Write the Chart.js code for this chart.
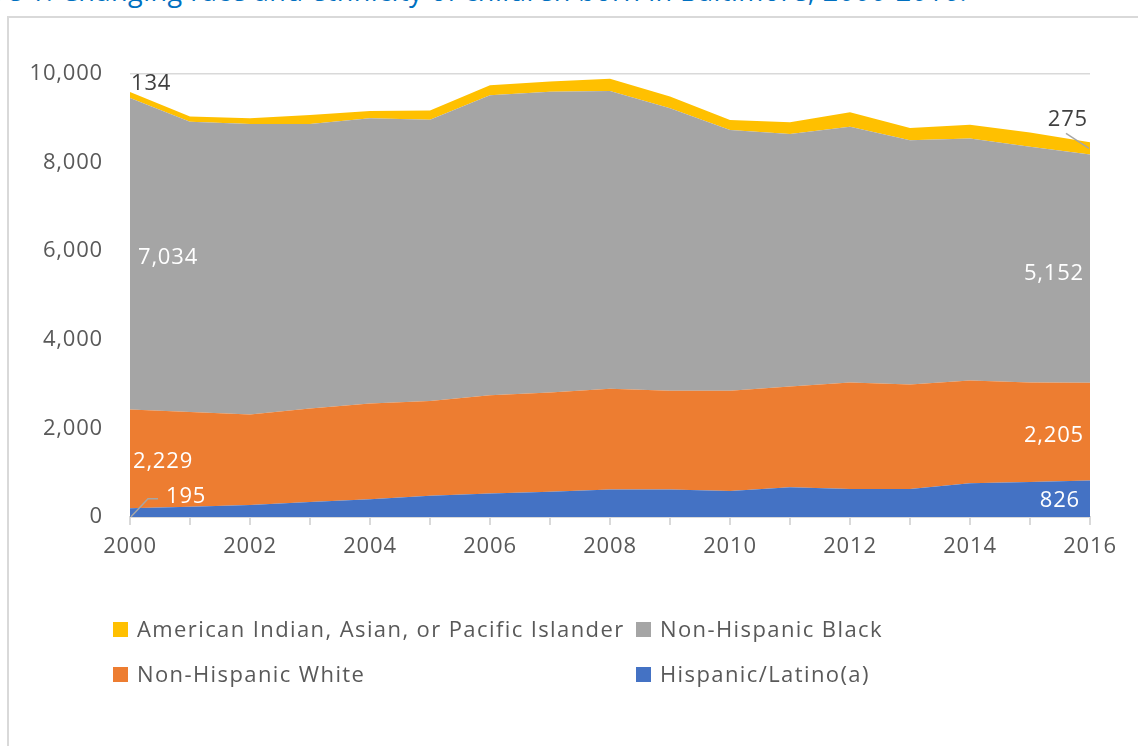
<!DOCTYPE html>
<html>
<head>
<meta charset="utf-8">
<script src="https://cdn.jsdelivr.net/npm/chart.js@4.4.1/dist/chart.umd.min.js"></script>
<style>
  html, body { margin: 0; padding: 0; background: #fff; overflow: hidden; }
  #wrap { position: relative; width: 1138px; height: 746px; overflow: hidden; }
  #title { position: absolute; right: 171px; top: -28px; white-space: nowrap;
           font: 27px "Open Sans", sans-serif; color: #0070c0; letter-spacing: 0.5px; }
  #frame { position: absolute; left: 7px; top: 16px; width: 1200px; height: 800px;
           border: 2px solid #d9d9d9; box-sizing: border-box; }
  #chart { position: absolute; left: 0; top: 0; }
  .leg { position: absolute; font: 22px "Open Sans", sans-serif; color: #595959;
         white-space: nowrap; letter-spacing: 1.4px; }
  .leg i { display: inline-block; width: 15px; height: 15px; margin-right: 9px; vertical-align: 0px; }
</style>
</head>
<body>
<div id="wrap">
  <div id="title">Figure 1. Changing race and ethnicity of children born in Baltimore, 2000-2016.</div>
  <div id="frame"></div>
  <canvas id="chart" width="1138" height="746"></canvas>
</div>
<script>
// years and counts of births by race/ethnicity
const years = ['2000','2001','2002','2003','2004','2005','2006','2007','2008',
               '2009','2010','2011','2012','2013','2014','2015','2016'];
const hispanic = [195, 230, 270, 340, 400, 480, 530, 570, 620, 620, 585, 670, 630, 630, 760, 790, 826];
const white    = [2229, 2140, 2041, 2108, 2161, 2140, 2220, 2241, 2275, 2228, 2263, 2278, 2408, 2363, 2324, 2248, 2205];
const black    = [7034, 6554, 6560, 6423, 6439, 6350, 6770, 6790, 6720, 6380, 5886, 5695, 5773, 5514, 5461, 5319, 5152];
const other    = [134, 114, 129, 205, 166, 204, 227, 228, 275, 266, 227, 266, 325, 273, 311, 325, 275];
const yTicks   = [0, 2000, 4000, 6000, 8000, 10000];

const series = [
  { label: 'Hispanic/Latino(a)', data: hispanic, color: '#4472c4' },
  { label: 'Non-Hispanic White', data: white, color: '#ed7d31' },
  { label: 'Non-Hispanic Black', data: black, color: '#a5a5a5' },
  { label: 'American Indian, Asian, or Pacific Islander', data: other, color: '#ffc000' }
];

const fmt = v => v.toLocaleString('en-US');
const FONT = '"Open Sans", sans-serif';

// the original text is a bit wide, so spread all canvas text a little
const spacing = {
  id: 'spacing',
  beforeDraw(chart) { chart.ctx.letterSpacing = '0.8px'; }
};

// labels on first and last points of each band
const pointLabels = {
  id: 'pointLabels',
  afterDatasetsDraw(chart) {
    const ctx = chart.ctx;
    const xs = chart.scales.x, ys = chart.scales.y;
    const last = years.length - 1;
    const x0 = xs.getPixelForValue(0), xN = xs.getPixelForValue(last);
    const cum = (i, k) => series.slice(0, k).reduce((s, d) => s + d.data[i], 0);
    const mid = (i, k) => ys.getPixelForValue(cum(i, k) + series[k].data[i] / 2);
    ctx.save();
    ctx.font = '22px ' + FONT;
    ctx.textBaseline = 'middle';

    // left side
    ctx.textAlign = 'left';
    ctx.fillStyle = '#ffffff';
    ctx.fillText(fmt(black[0]), x0 + 8, mid(0, 2) + 4);
    ctx.fillText(fmt(white[0]), x0 + 3, mid(0, 1) + 3);
    ctx.fillText(fmt(hispanic[0]), x0 + 36, ys.getPixelForValue(cum(0, 1)) - 12);
    ctx.fillStyle = '#404040';
    ctx.fillText(fmt(other[0]), x0 + 1, ys.getPixelForValue(cum(0, 4)) - 8);

    // right side
    ctx.textAlign = 'right';
    ctx.fillStyle = '#ffffff';
    ctx.fillText(fmt(black[last]), xN - 6, mid(last, 2) + 5);
    ctx.fillText(fmt(white[last]), xN - 6, mid(last, 1) + 4);
    ctx.fillText(fmt(hispanic[last]), xN - 10, mid(last, 0) + 2);
    ctx.fillStyle = '#404040';
    ctx.fillText(fmt(other[last]), xN - 2, mid(last, 3) - 29);

    // leader lines
    ctx.strokeStyle = '#a6a6a6';
    ctx.lineWidth = 1.5;
    ctx.beginPath();
    const yb = mid(0, 0);
    ctx.moveTo(x0 + 1, yb + 4);
    ctx.lineTo(x0 + 18, yb - 14);
    ctx.lineTo(x0 + 28, yb - 14);
    ctx.stroke();
    ctx.beginPath();
    const yo = mid(last, 3);
    ctx.moveTo(xN - 24, yo - 15);
    ctx.lineTo(xN - 1, yo);
    ctx.stroke();
    ctx.restore();
  }
};

const ctx = document.getElementById('chart').getContext('2d');
const myChart = new Chart(ctx, {
  type: 'line',
  data: {
    labels: years,
    datasets: series.map((s, k) => ({
      label: s.label,
      data: s.data,
      backgroundColor: s.color,
      borderColor: s.color,
      borderWidth: 0,
      pointRadius: 0,
      tension: 0,
      fill: k === 0 ? 'origin' : '-1'
    }))
  },
  options: {
    responsive: false,
    animation: false,
    events: [],
    layout: { padding: { left: 0, top: 74, right: 48, bottom: 0 } },
    plugins: {
      legend: { display: false },
      tooltip: { enabled: false },
      title: { display: false }
    },
    scales: {
      x: {
        offset: false,
        afterFit: s => { s.height = 229; },
        grid: { drawOnChartArea: false, drawTicks: true, tickLength: 8, color: '#d9d9d9', lineWidth: 2 },
        border: { color: '#d9d9d9', width: 2 },
        ticks: {
          autoSkip: false, maxRotation: 0, padding: 9,
          color: '#595959', font: { family: FONT, size: 22 },
          callback: (v, i) => (i % 2 === 0 ? years[i] : '')
        }
      },
      y: {
        stacked: true,
        min: yTicks[0],
        max: yTicks[yTicks.length - 1],
        afterFit: s => { s.width = 130; },
        afterBuildTicks: s => { s.ticks = yTicks.map(v => ({ value: v })); },
        grid: { drawTicks: false, color: '#d9d9d9', lineWidth: 1.5 },
        border: { display: false },
        ticks: {
          padding: 27, color: '#595959', font: { family: FONT, size: 22 },
          callback: v => fmt(v)
        }
      }
    }
  },
  plugins: [spacing, pointLabels]
});

// legend, two rows as in the original
const legendOrder = [3, 2, 1, 0];
const legPos = [[113, 613], [636, 613], [113, 658], [636, 658]];
legendOrder.forEach((k, j) => {
  const d = document.createElement('div');
  d.className = 'leg';
  d.style.left = legPos[j][0] + 'px';
  d.style.top = legPos[j][1] + 'px';
  d.innerHTML = '<i style="background:' + series[k].color + '"></i>' + series[k].label;
  document.getElementById('wrap').appendChild(d);
});
</script>
</body>
</html>
